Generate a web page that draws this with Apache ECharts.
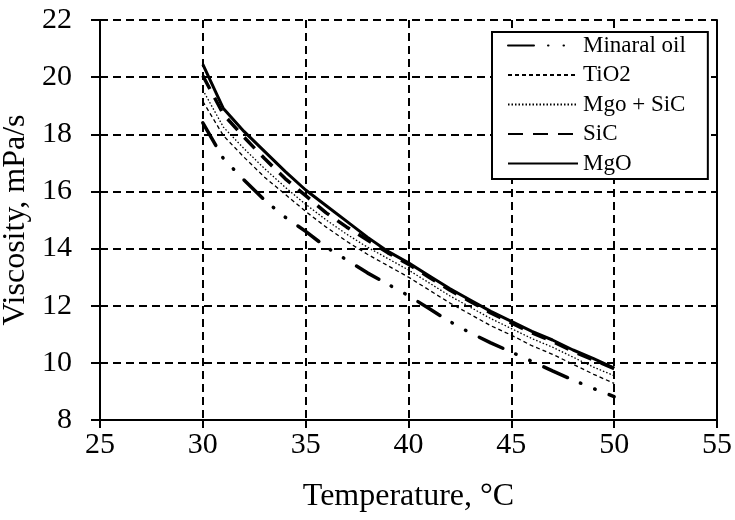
<!DOCTYPE html>
<html>
<head>
<meta charset="utf-8">
<script src="https://cdn.jsdelivr.net/npm/echarts@6/dist/echarts.min.js"></script>
<style>
  html, body { margin: 0; padding: 0; background: #fff; }
  #chart { width: 735px; height: 520px; }
</style>
</head>
<body>
<div id="chart"></div>
<script>
// temperatures, °C
var temps = [30, 31, 32, 33, 34, 35, 36, 37, 38, 39, 40, 41, 42, 43, 44, 45, 46, 47, 48, 49, 50];
// viscosity, mPa/s
var mineralOil = [18.4, 17.15, 16.4, 15.7, 15.1, 14.6, 14.05, 13.6, 13.15, 12.75, 12.35, 11.9, 11.45, 11.05, 10.7, 10.38, 10.05, 9.72, 9.4, 9.1, 8.82];
var tio2 = [19.15, 17.95, 17.2, 16.5, 15.9, 15.3, 14.75, 14.25, 13.8, 13.4, 13.0, 12.55, 12.1, 11.7, 11.3, 10.97, 10.6, 10.3, 9.95, 9.6, 9.28];
var mgoSic = [19.55, 18.25, 17.5, 16.8, 16.15, 15.55, 15.0, 14.5, 14.05, 13.65, 13.25, 12.8, 12.35, 11.95, 11.55, 11.2, 10.85, 10.55, 10.2, 9.85, 9.55];
var sic = [20.05, 18.7, 17.9, 17.15, 16.45, 15.85, 15.25, 14.75, 14.3, 13.85, 13.45, 13.0, 12.55, 12.15, 11.75, 11.4, 11.05, 10.75, 10.4, 10.1, 9.8];
var mgo = [20.45, 18.9, 18.1, 17.4, 16.7, 16.05, 15.5, 14.95, 14.4, 13.9, 13.5, 13.05, 12.6, 12.2, 11.8, 11.45, 11.1, 10.8, 10.45, 10.15, 9.82];

var seriesNames = ['Minaral oil', 'TiO2', 'Mgo + SiC', 'SiC', 'MgO'];

function pairs(ys) {
    var out = [];
    for (var i = 0; i < temps.length; i++) {
        out.push([temps[i], ys[i]]);
    }
    return out;
}

var font = 'Liberation Serif, Times New Roman, serif';
var chart = echarts.init(document.getElementById('chart'));

var option = {
    animation: false,
    backgroundColor: '#fff',
    grid: { left: 100, right: 18, top: 20, bottom: 100, containLabel: false, outerBoundsMode: 'none' },
    legend: {
        data: seriesNames,
        orient: 'vertical',
        left: 492,
        top: 32,
        itemWidth: 70,
        itemHeight: 14,
        itemGap: 6.5,
        padding: [2, 22, 4, 15],
        backgroundColor: '#fff',
        borderColor: '#000',
        borderWidth: 2,
        borderRadius: 0,
        itemStyle: { color: 'transparent', borderColor: 'transparent', borderWidth: 0, opacity: 0 },
        textStyle: { fontFamily: font, fontSize: 23, color: '#000' }
    },
    xAxis: {
        type: 'value',
        min: 25, max: 55, interval: 5,
        name: 'Temperature, °C',
        nameLocation: 'middle',
        nameGap: 61,
        nameTextStyle: { fontFamily: font, fontSize: 32, color: '#000' },
        axisLine: { onZero: false, lineStyle: { color: '#000', width: 2 } },
        axisTick: { length: 8, lineStyle: { color: '#000', width: 2 } },
        axisLabel: { fontFamily: font, fontSize: 30, color: '#000', margin: 10 },
        splitLine: { show: true, lineStyle: { color: '#000', width: 2, type: [8, 5] } }
    },
    yAxis: [{
        type: 'value',
        min: 8, max: 22, interval: 2,
        name: 'Viscosity, mPa/s',
        nameLocation: 'middle',
        nameGap: 46,
        nameTextStyle: { fontFamily: font, fontSize: 32, color: '#000' },
        axisLine: { show: true, onZero: false, lineStyle: { color: '#000', width: 2 } },
        axisTick: { show: true, length: 9, lineStyle: { color: '#000', width: 2 } },
        axisLabel: { fontFamily: font, fontSize: 30, color: '#000', margin: 28 },
        splitLine: { show: true, lineStyle: { color: '#000', width: 2, type: [8, 5] } }
    }, {
        type: 'value',
        min: 8, max: 22, interval: 2,
        position: 'right',
        axisLine: { show: true, onZero: false, lineStyle: { color: '#000', width: 2 } },
        axisTick: { show: false },
        axisLabel: { show: false },
        splitLine: { show: false }
    }],
    series: [{
        name: 'Minaral oil',
        type: 'line',
        symbol: 'none',
        color: '#000',
        lineStyle: { color: '#000', width: 3.5, type: [26, 14, 0.5, 15, 0.5, 15], cap: 'round' },
        data: pairs(mineralOil)
    }, {
        name: 'TiO2',
        type: 'line',
        symbol: 'none',
        color: '#000',
        lineStyle: { color: '#000', width: 1.3, type: [4, 3] },
        data: pairs(tio2)
    }, {
        name: 'Mgo + SiC',
        type: 'line',
        symbol: 'none',
        color: '#000',
        lineStyle: { color: '#000', width: 1.3, type: [1.5, 2] },
        data: pairs(mgoSic)
    }, {
        name: 'SiC',
        type: 'line',
        symbol: 'none',
        color: '#000',
        lineStyle: { color: '#000', width: 3.5, type: [15, 10] },
        data: pairs(sic)
    }, {
        name: 'MgO',
        type: 'line',
        symbol: 'none',
        color: '#000',
        lineStyle: { color: '#000', width: 3, type: 'solid' },
        data: pairs(mgo)
    }]
};
chart.setOption(option);
</script>
</body>
</html>
